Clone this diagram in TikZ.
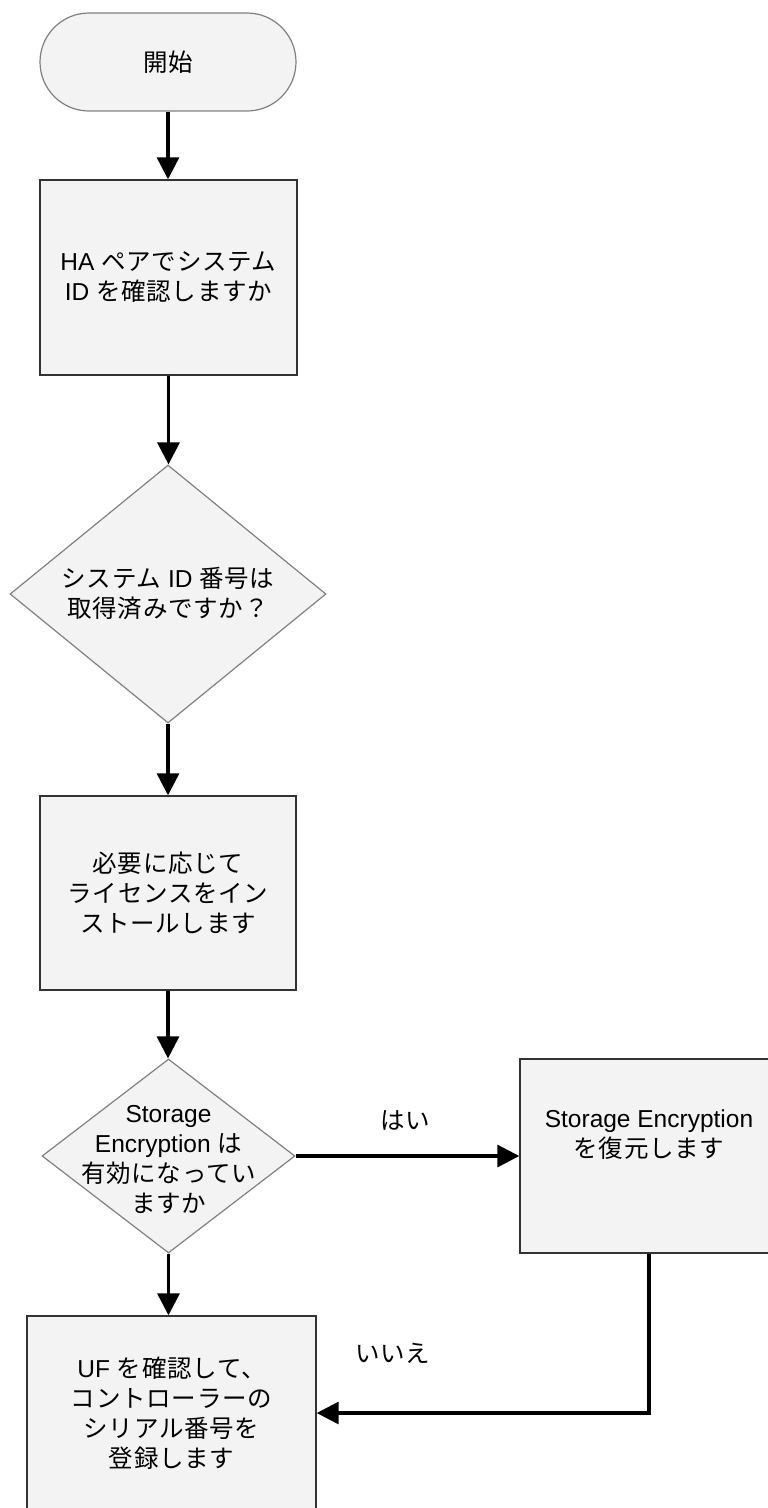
\documentclass[tikz,border=0pt]{standalone}
\usepackage{fontspec}
\setmainfont{Liberation Sans}
\newfontfamily\cjk[LetterSpace=3]{Noto Sans CJK JP}
\usetikzlibrary{arrows.meta,shapes.geometric}
\definecolor{boxfill}{HTML}{F3F3F3}
\definecolor{softline}{HTML}{808080}
\definecolor{hardline}{HTML}{333333}
\begin{document}
\begin{tikzpicture}[x=1pt,y=-1pt,
  txt/.style={font=\fontsize{24.5}{30}\selectfont, align=center, inner sep=0pt},
  terminal/.style={draw=softline, fill=boxfill, line width=1.2pt, rounded corners=49pt, inner sep=0pt},
  process/.style={draw=hardline, fill=boxfill, line width=1.4pt, inner sep=0pt, txt},
  decision/.style={diamond, draw=softline, fill=boxfill, line width=1.2pt, inner sep=0pt},
  flow/.style={line width=3.2pt, -{Triangle[width=22pt,length=22pt]}},
  lbl/.style={txt}
]
\useasboundingbox (0,0) rectangle (768,1508);

\node[terminal, minimum width=256pt, minimum height=98pt, txt] (start) at (168,62) {\cjk 開始};

\node[process, minimum width=257pt, minimum height=195pt] (b1) at (168.5,277.5)
  {HA {\cjk ペアでシステム}\\ID {\cjk を確認しますか}};

\node[decision, minimum width=316pt, minimum height=258pt] (d1) at (168,594) {};
\node[txt] (d1t) at (168,593) {{\cjk システム} ID {\cjk 番号は}\\{\cjk 取得済みですか？}};

\node[process, minimum width=256pt, minimum height=194pt] (b2) at (168,893)
  {{\cjk 必要に応じて}\\{\cjk ライセンスをイン}\\{\cjk ストールします}};

\node[decision, minimum width=253pt, minimum height=194pt] (d2) at (168.5,1156) {};
\node[txt] (d2t) at (168.5,1160) {Storage\\Encryption {\cjk は}\\{\cjk 有効になってい}\\{\cjk ますか}};

\node[process, minimum width=258pt, minimum height=194pt] (rb) at (649,1156)
  {Storage Encryption\\{\cjk を復元します}\\[14pt]};

\node[process, minimum width=289pt, minimum height=195pt] (b3) at (171.5,1413.5)
  {UF {\cjk を確認して、}\\{\cjk コントローラーの}\\{\cjk シリアル番号を}\\{\cjk 登録します}};

\node[lbl] (yes) at (405,1120) {\cjk はい};
\node[lbl] (no) at (393,1353) {\cjk いいえ};

\coordinate (bend) at (649,1413);

\draw[flow] (start.south) -- (start.south |- b1.north);
\draw[flow] (b1.south) -- (b1.south |- d1.north);
\draw[flow] (d1.south) -- (d1.south |- b2.north);
\draw[flow] (b2.south) -- (b2.south |- d2.north);
\draw[flow] (d2.east) -- (rb.west);
\draw[flow] (d2.south) -- (d2.south |- b3.north);
\draw[flow] (rb.south) -- (bend) -- (bend -| b3.east);
\end{tikzpicture}
\end{document}
